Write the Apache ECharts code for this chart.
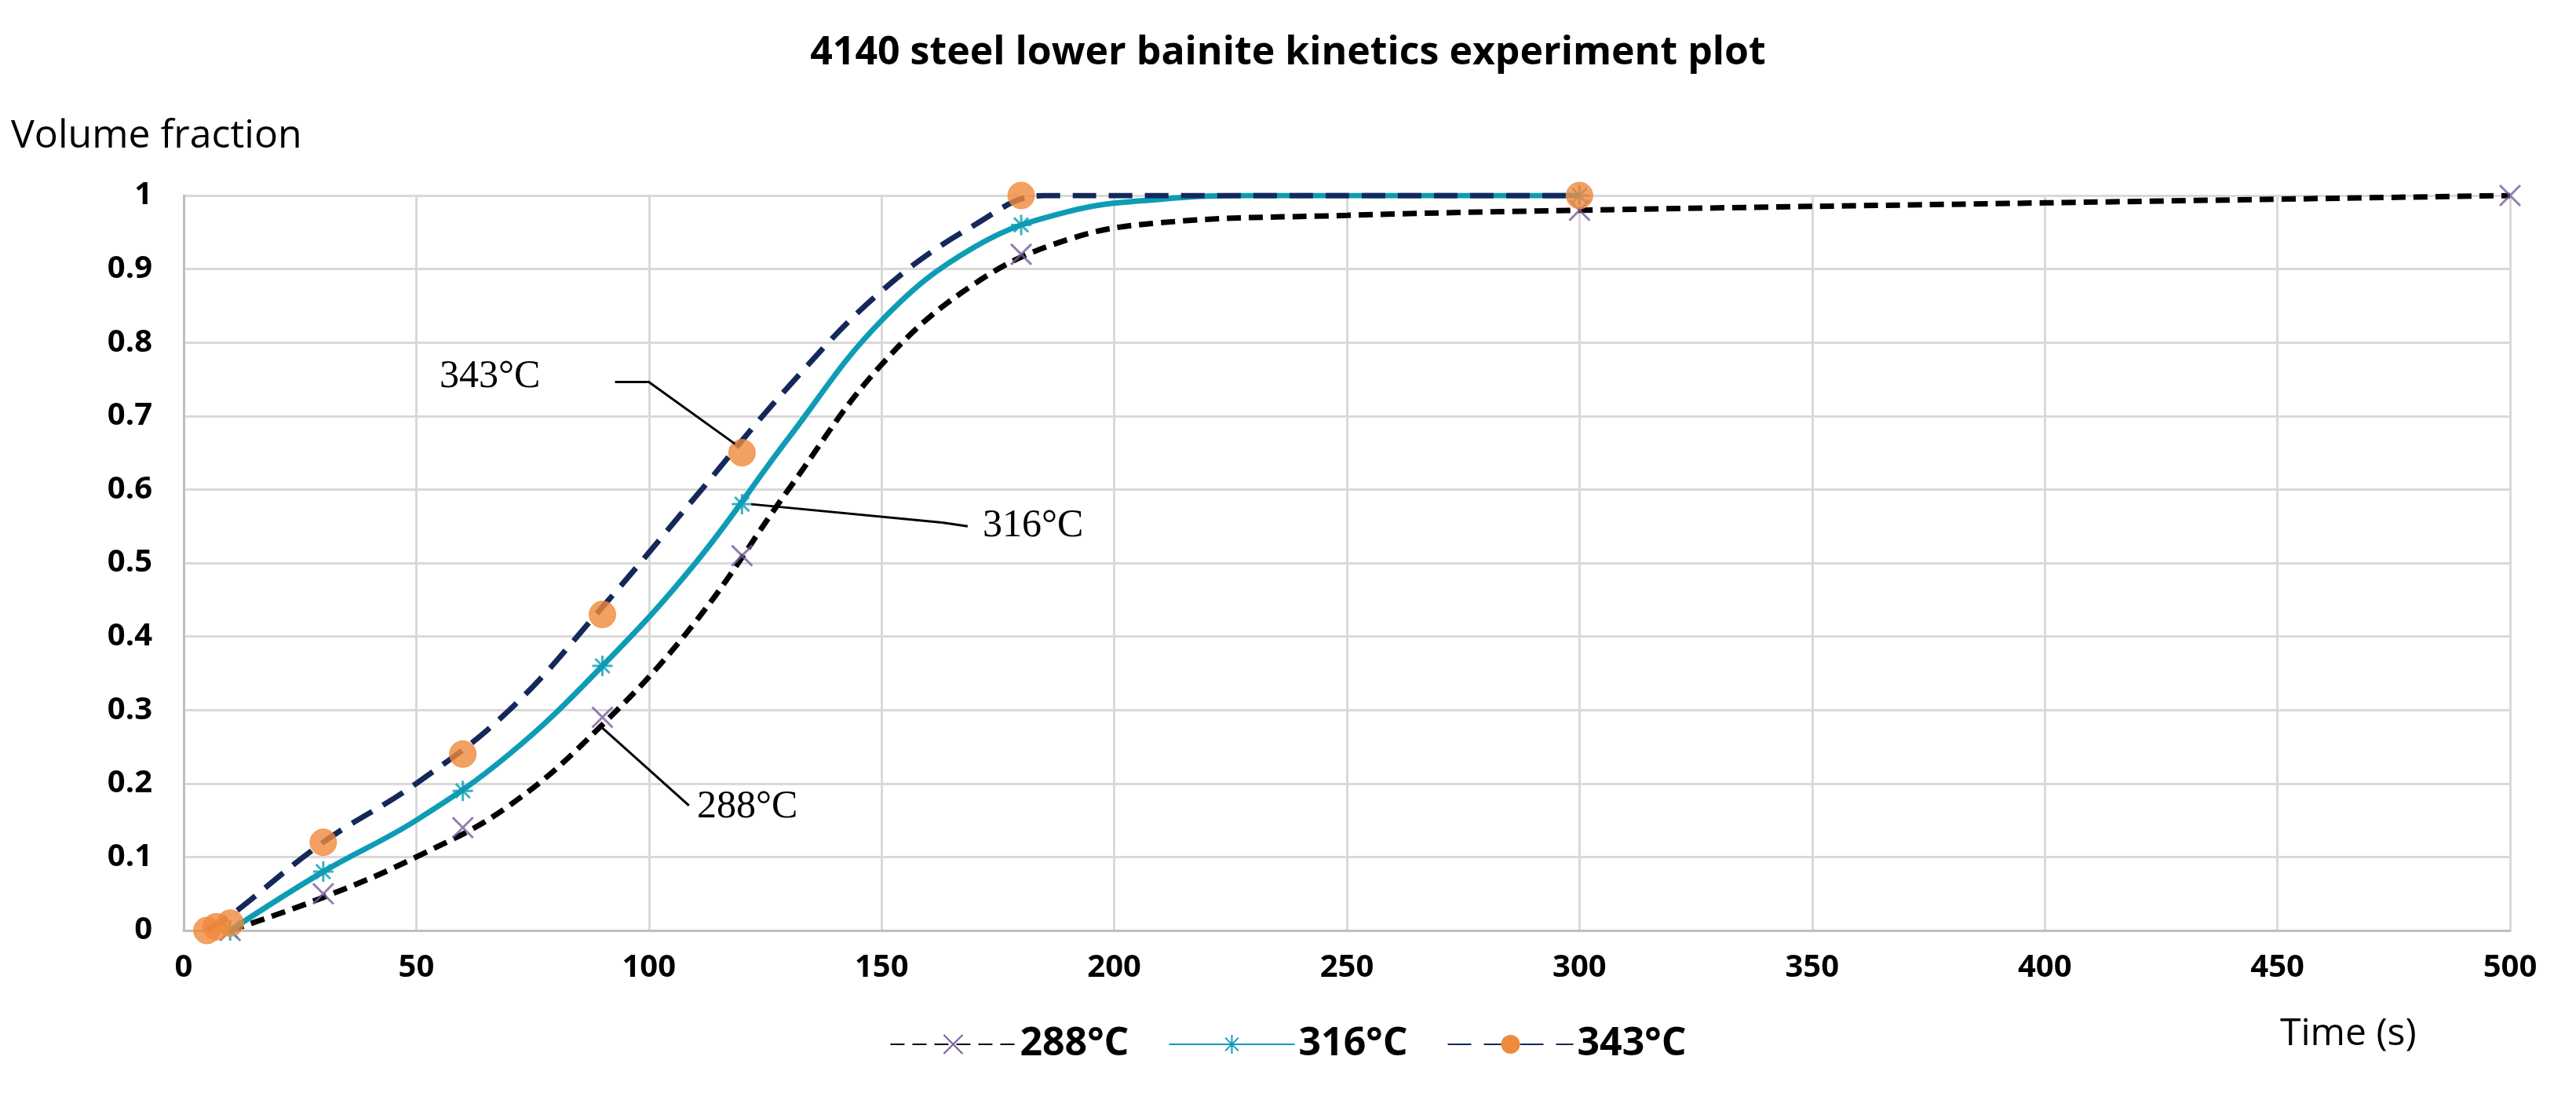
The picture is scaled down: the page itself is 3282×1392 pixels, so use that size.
<!DOCTYPE html>
<html>
<head>
<meta charset="utf-8">
<script src="https://cdn.jsdelivr.net/npm/echarts@6/dist/echarts.min.js"></script>
<style>html,body{margin:0;background:#fff}#chart{width:3282px;height:1392px}</style>
</head>
<body>
<div id="chart"></div>
<script>
// meetpunten per temperatuur
const t288 = [[10, 0], [30, 0.05], [60, 0.14], [90, 0.29], [120, 0.51], [180, 0.92], [300, 0.98], [500, 1.0]];
const t316 = [[10, 0], [30, 0.08], [60, 0.19], [90, 0.36], [120, 0.58], [180, 0.96], [300, 1.0]];
const t343 = [[5, 0], [7, 0.005], [10, 0.01], [30, 0.12], [60, 0.24], [90, 0.43], [120, 0.65], [180, 1.0], [300, 1.0]];

// fitted curves
const fit288 = [[10, 0], [30, 0.045], [50, 0.1], [70, 0.17], [90, 0.28], [110, 0.42], [130, 0.6], [150, 0.77], [170, 0.88], [190, 0.94], [210, 0.963], [250, 0.973], [300, 0.98], [400, 0.99], [500, 1.0]];
const fit316 = [[10, 0], [30, 0.08], [50, 0.15], [70, 0.24], [90, 0.36], [110, 0.5], [130, 0.67], [150, 0.83], [170, 0.93], [190, 0.978], [210, 0.995], [230, 1.0], [300, 1.0]];
const fit343 = [[5, 0], [10, 0.02], [30, 0.12], [50, 0.2], [70, 0.3], [90, 0.44], [110, 0.59], [130, 0.74], [150, 0.87], [170, 0.96], [185, 1.0], [300, 1.0]];

// leader lines for the labels, in data units
const leaders = [
  [[92.7, 0.747], [99.8, 0.747]], [[99.8, 0.747], [118.5, 0.662]],
  [[168.5, 0.55], [163, 0.555]], [[163, 0.555], [122, 0.58]],
  [[108.6, 0.17], [89.2, 0.28]]
];

const chart = echarts.init(document.getElementById('chart'));
const serif = 'Liberation Serif';
const sans = 'Open Sans';

const xPath = 'path://M0,0L10,10M10,0L0,10';
const starPath = 'path://M5,0L5,10M0,5L10,5M1.5,1.5L8.5,8.5M8.5,1.5L1.5,8.5';

const styles = {
  '288°C': { line: { color: '#000', width: 7, type: [18, 10] }, symbol: xPath, size: 26,
    item: { color: 'none', borderColor: '#7a5c9e', borderWidth: 3 } },
  '316°C': { line: { color: '#0e9cb5', width: 7 }, symbol: starPath, size: 26,
    item: { color: 'none', borderColor: '#0e9cb5', borderWidth: 3 } },
  '343°C': { line: { color: '#14285a', width: 7, type: [30, 16] }, symbol: 'circle', size: 34,
    item: { color: '#f08a3c', borderColor: '#f08a3c' } }
};

function pair(name, fit, pts) {
  const s = styles[name];
  return [
    { name, type: 'line', data: fit, smooth: 0.4, showSymbol: false,
      symbol: s.symbol, symbolSize: s.size, lineStyle: s.line, itemStyle: s.item, z: 2 },
    { name, type: 'scatter', data: pts, symbol: s.symbol, symbolSize: s.size, itemStyle: s.item, z: 3 }
  ];
}

chart.setOption({
  animation: false,
  title: {
    text: '4140 steel lower bainite kinetics experiment plot',
    left: 'center', top: 38,
    textStyle: { fontFamily: sans, fontSize: 50, fontWeight: 'bold', color: '#000' }
  },
  legend: {
    top: 1300, left: 'center', itemWidth: 160, itemHeight: 30, itemGap: 50,
    textStyle: { fontFamily: sans, fontSize: 50, fontWeight: 'bold', color: '#000' },
    data: ['288°C', '316°C', '343°C']
  },
  grid: { left: 234, right: 84, top: 249, bottom: 207 },
  xAxis: {
    type: 'value', min: 0, max: 500, interval: 50,
    axisLine: { lineStyle: { color: '#bfbfbf', width: 3 } },
    axisTick: { show: false },
    axisLabel: { fontFamily: sans, fontSize: 40, fontWeight: 'bold', color: '#000', margin: 28 },
    splitLine: { lineStyle: { color: '#d9d9d9', width: 3 } }
  },
  yAxis: {
    type: 'value', min: 0, max: 1, interval: 0.1,
    name: 'Volume fraction', nameLocation: 'end', nameGap: 50,
    nameTextStyle: { fontFamily: sans, fontSize: 50, color: '#000', align: 'left', padding: [0, 0, 0, -220] },
    axisLine: { show: true, lineStyle: { color: '#bfbfbf', width: 3 } },
    axisTick: { show: false },
    axisLabel: { fontFamily: sans, fontSize: 40, fontWeight: 'bold', color: '#000', margin: 40,
      formatter: v => String(Math.round(v * 10) / 10) },
    splitLine: { lineStyle: { color: '#d9d9d9', width: 3 } }
  },
  series: [
    ...pair('288°C', fit288, t288),
    ...pair('316°C', fit316, t316),
    ...pair('343°C', fit343, t343),
    { name: 'leaders', type: 'line', data: [], silent: true,
      markLine: { symbol: 'none', silent: true, label: { show: false },
        lineStyle: { color: '#000', width: 3, type: 'solid' },
        data: leaders.map(s => [{ coord: s[0] }, { coord: s[1] }]) } }
  ],
  graphic: [
    { type: 'text', left: 560, top: 455, style: { text: '343°C', font: '50px ' + serif, fill: '#000' } },
    { type: 'text', left: 1252, top: 645, style: { text: '316°C', font: '50px ' + serif, fill: '#000' } },
    { type: 'text', left: 888, top: 1003, style: { text: '288°C', font: '50px ' + serif, fill: '#000' } },
    { type: 'text', left: 2905, top: 1293, style: { text: 'Time (s)', font: '48px ' + sans, fill: '#000' } }
  ]
});
</script>
</body>
</html>
